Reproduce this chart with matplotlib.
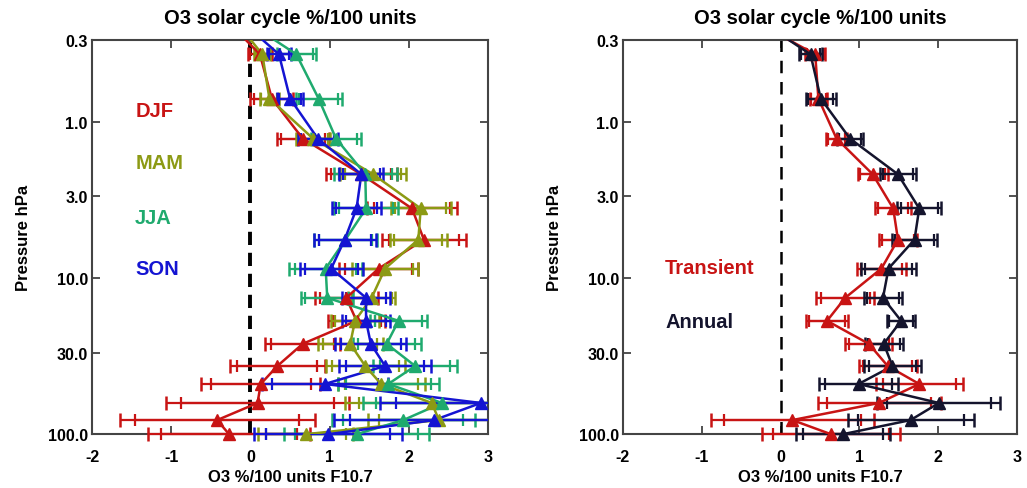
import matplotlib
matplotlib.use("Agg")
import matplotlib.pyplot as plt
from matplotlib.patches import Rectangle
import numpy as np

plt.rcParams['font.family'] = ['Liberation Sans', 'DejaVu Sans']
plt.rcParams['font.weight'] = 'bold'

pressure = [0.25, 0.37, 0.71, 1.28, 2.17, 3.59, 5.68, 8.7, 13.4, 18.8, 26.4, 36.6, 47.7, 63.1, 81.2, 100.0]

djf = [-0.21, 0.12, 0.27, 0.66, 1.40, 2.04, 2.19, 1.62, 1.21, 1.34, 0.66, 0.34, 0.13, 0.09, -0.42, -0.27]
djf_err = [0.15, 0.15, 0.27, 0.33, 0.45, 0.57, 0.53, 0.50, 0.40, 0.36, 0.47, 0.60, 0.75, 1.15, 1.23, 1.02]
mam = [-0.12, 0.15, 0.24, 0.79, 1.55, 2.15, 2.12, 1.70, 1.53, 1.32, 1.26, 1.45, 1.65, 2.29, 2.38, 0.70]
mam_err = [0.10, 0.10, 0.12, 0.22, 0.42, 0.38, 0.36, 0.42, 0.30, 0.30, 0.41, 0.50, 0.55, 1.10, 0.90, 0.60]
jja = [0.07, 0.58, 0.86, 1.08, 1.45, 1.46, 1.20, 0.95, 0.97, 1.87, 1.72, 2.08, 1.74, 2.42, 1.93, 1.34]
jja_err = [0.25, 0.25, 0.29, 0.31, 0.40, 0.40, 0.40, 0.46, 0.33, 0.36, 0.43, 0.53, 0.64, 1.00, 0.90, 0.92]
son = [-0.02, 0.36, 0.50, 0.85, 1.40, 1.34, 1.19, 1.02, 1.46, 1.46, 1.52, 1.70, 0.94, 2.91, 2.32, 0.98]
son_err = [0.15, 0.15, 0.17, 0.25, 0.28, 0.31, 0.39, 0.40, 0.30, 0.30, 0.45, 0.58, 0.80, 1.27, 1.26, 0.93]

transient = [-0.18, 0.44, 0.48, 0.71, 1.17, 1.43, 1.49, 1.28, 0.82, 0.59, 1.12, 1.36, 1.76, 1.25, 0.15, 0.64]
transient_err = [0.13, 0.13, 0.11, 0.13, 0.19, 0.23, 0.24, 0.31, 0.37, 0.27, 0.30, 0.37, 0.55, 0.78, 1.03, 0.87]
annual = [-0.13, 0.38, 0.51, 0.88, 1.49, 1.76, 1.70, 1.37, 1.30, 1.53, 1.31, 1.42, 0.99, 2.01, 1.65, 0.79]
annual_err = [0.15, 0.15, 0.19, 0.17, 0.23, 0.28, 0.29, 0.35, 0.24, 0.18, 0.24, 0.36, 0.50, 0.78, 0.80, 0.60]

ytick_vals = [0.3, 1.0, 3.0, 10.0, 30.0, 100.0]
ytick_labels = ['0.3', '1.0', '3.0', '10.0', '30.0', '100.0']
xtick_vals = [-2, -1, 0, 1, 2, 3]

title = 'O3 solar cycle %/100 units'
xlabel = 'O3 %/100 units F10.7'
ylabel = 'Pressure hPa'

C_DJF = '#C81414'
C_MAM = '#8C9A14'
C_JJA = '#1FAA6E'
C_SON = '#1414D2'
C_TR = '#C81414'
C_AN = '#14142D'

fig = plt.figure(figsize=(10.27, 4.89), dpi=100)
axL = fig.add_axes([0.0896, 0.110, 0.3856, 0.806])
axR = fig.add_axes([0.6066, 0.110, 0.3836, 0.806])

# level 0 lies above the plotted range (line only, clipped)
VIS = slice(1, None)


def clip_rect(ax):
    r = Rectangle((0, -0.04), 1, 1.04, transform=ax.transAxes, fill=False,
                  visible=False)
    ax.add_patch(r)
    return r


def series(ax, x, err, color):
    x = np.asarray(x)
    err = np.asarray(err)
    p = np.asarray(pressure)
    rect = clip_rect(ax)
    ax.plot(x, p, '-', color=color, lw=1.8, zorder=4)
    for f, cs, ct in [(1.0, 5, 1.8), (0.84, 4, 1.6)]:
        eb = ax.errorbar(x[VIS], p[VIS], xerr=err[VIS] * f, fmt='none', ecolor=color,
                         elinewidth=1.6, capsize=cs, capthick=ct, zorder=3)
        for art in list(eb.lines[1]) + list(eb.lines[2]):
            art.set_clip_path(rect)
    mk, = ax.plot(x[VIS], p[VIS], linestyle='none', color=color, marker='^',
                  markersize=9, zorder=5)
    mk.set_clip_path(rect)


def style(ax, dash_lw, dashes):
    ax.set_yscale('log')
    ax.set_ylim(100, 0.3)
    ax.set_xlim(-2, 3)
    ax.axvline(0, color='black', lw=dash_lw, linestyle=(0, dashes), zorder=2)
    ax.set_yticks(ytick_vals)
    ax.set_yticklabels(ytick_labels)
    ax.yaxis.set_minor_locator(matplotlib.ticker.NullLocator())
    ax.set_xticks(xtick_vals)
    ax.set_xticklabels([str(v) for v in xtick_vals])
    ax.tick_params(direction='in', length=6, width=1.2, top=True, right=True,
                   labelsize=11.5, color='#333333')
    ax.tick_params(axis='x', pad=11)
    ax.tick_params(axis='y', pad=3)
    for lab in ax.get_xticklabels() + ax.get_yticklabels():
        lab.set_fontweight('bold')
    for s in ax.spines.values():
        s.set_linewidth(1.5)
        s.set_color('#444444')
    ax.set_title(title, fontsize=14.5, fontweight='bold', pad=12)
    ax.set_xlabel(xlabel, fontsize=12, fontweight='bold', labelpad=3)
    ax.set_ylabel(ylabel, fontsize=12, fontweight='bold', labelpad=12)


series(axL, djf, djf_err, C_DJF)
series(axL, mam, mam_err, C_MAM)
series(axL, jja, jja_err, C_JJA)
series(axL, son, son_err, C_SON)
style(axL, 2.8, (3.4, 2.0))

series(axR, transient, transient_err, C_TR)
series(axR, annual, annual_err, C_AN)
style(axR, 1.8, (5.0, 3.5))

for txt, yy, col in [('DJF', 0.822, C_DJF), ('MAM', 0.690, C_MAM),
                     ('JJA', 0.550, C_JJA), ('SON', 0.421, C_SON)]:
    axL.text(0.109, yy, txt, color=col, fontsize=14.5, fontweight='bold',
             transform=axL.transAxes, ha='left', va='center')

axR.text(0.107, 0.424, 'Transient', color=C_TR, fontsize=14.5, fontweight='bold',
         transform=axR.transAxes, ha='left', va='center')
axR.text(0.107, 0.287, 'Annual', color=C_AN, fontsize=14.5, fontweight='bold',
         transform=axR.transAxes, ha='left', va='center')

fig.savefig('out.png', dpi=100)
